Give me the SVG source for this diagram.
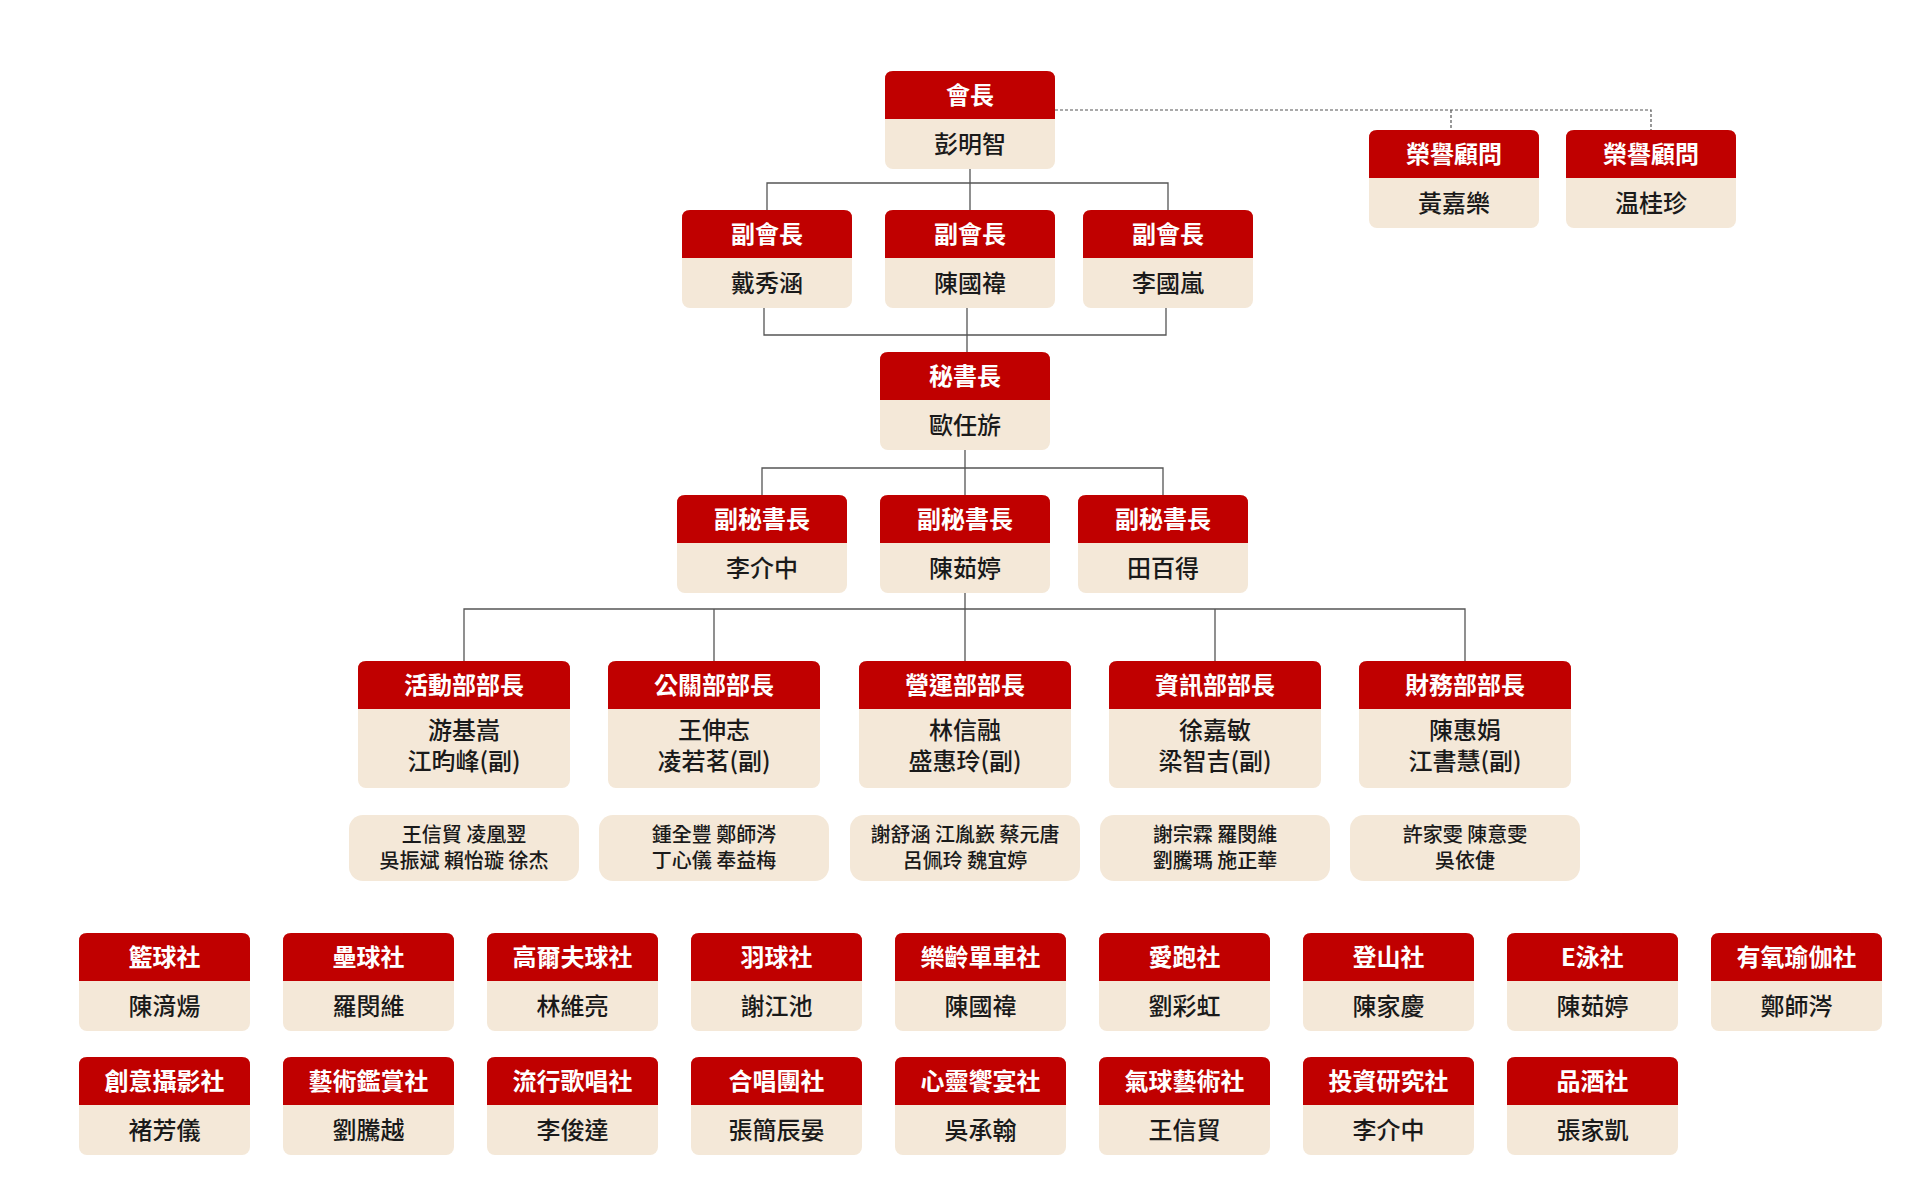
<svg xmlns="http://www.w3.org/2000/svg" width="1920" height="1204" viewBox="0 0 1920 1204">
<style>
.b{fill:#f4e8d8}.h{fill:#c00000}
text{font-family:"Noto Sans CJK TC","Noto Sans CJK SC",sans-serif;text-anchor:middle}
.t{fill:#fff;font-size:24px;font-weight:700}
.n{fill:#1a1a1a;font-size:24px;font-weight:500}
.m{fill:#1a1a1a;font-size:20px;font-weight:500}
.l{fill:none;stroke:#555;stroke-width:1.3}
.d{fill:none;stroke:#555;stroke-width:1.2;stroke-dasharray:3 2}
</style>
<rect width="1920" height="1204" fill="#fff"/>
<g id="connectors">
<path class="d" d="M1055 110 H1651 V130 M1451 110 V130"/>
<path class="l" d="M970 169 V183 M767 210 V183 H1168 V210 M970 183 V210"/>
<path class="l" d="M764 308 V335 H1166 V308 M967 308 V352"/>
<path class="l" d="M965 449 V468 M762 495 V468 H1163 V495 M965 468 V495"/>
<path class="l" d="M965 592 V609 M464 661 V609 H1465 V661 M714 609 V661 M965 609 V661 M1215 609 V661"/>
</g>
<g id="president"><rect class="b" x="885" y="71" width="170" height="98" rx="8"/><path class="h" d="M885 119 V79 Q885 71 893 71 H1047 Q1055 71 1055 79 V119 Z"/><text class="t" x="970" y="104">會長</text><text class="n" x="970" y="153">彭明智</text></g>
<g id="adv1"><rect class="b" x="1369" y="130" width="170" height="98" rx="8"/><path class="h" d="M1369 178 V138 Q1369 130 1377 130 H1531 Q1539 130 1539 138 V178 Z"/><text class="t" x="1454" y="163">榮譽顧問</text><text class="n" x="1454" y="212">黃嘉樂</text></g>
<g id="adv2"><rect class="b" x="1566" y="130" width="170" height="98" rx="8"/><path class="h" d="M1566 178 V138 Q1566 130 1574 130 H1728 Q1736 130 1736 138 V178 Z"/><text class="t" x="1651" y="163">榮譽顧問</text><text class="n" x="1651" y="212">温桂珍</text></g>
<g id="vp1"><rect class="b" x="682" y="210" width="170" height="98" rx="8"/><path class="h" d="M682 258 V218 Q682 210 690 210 H844 Q852 210 852 218 V258 Z"/><text class="t" x="767" y="243">副會長</text><text class="n" x="767" y="292">戴秀涵</text></g>
<g id="vp2"><rect class="b" x="885" y="210" width="170" height="98" rx="8"/><path class="h" d="M885 258 V218 Q885 210 893 210 H1047 Q1055 210 1055 218 V258 Z"/><text class="t" x="970" y="243">副會長</text><text class="n" x="970" y="292">陳國禕</text></g>
<g id="vp3"><rect class="b" x="1083" y="210" width="170" height="98" rx="8"/><path class="h" d="M1083 258 V218 Q1083 210 1091 210 H1245 Q1253 210 1253 218 V258 Z"/><text class="t" x="1168" y="243">副會長</text><text class="n" x="1168" y="292">李國嵐</text></g>
<g id="sg"><rect class="b" x="880" y="352" width="170" height="98" rx="8"/><path class="h" d="M880 400 V360 Q880 352 888 352 H1042 Q1050 352 1050 360 V400 Z"/><text class="t" x="965" y="385">秘書長</text><text class="n" x="965" y="434">歐任旂</text></g>
<g id="dsg1"><rect class="b" x="677" y="495" width="170" height="98" rx="8"/><path class="h" d="M677 543 V503 Q677 495 685 495 H839 Q847 495 847 503 V543 Z"/><text class="t" x="762" y="528">副秘書長</text><text class="n" x="762" y="577">李介中</text></g>
<g id="dsg2"><rect class="b" x="880" y="495" width="170" height="98" rx="8"/><path class="h" d="M880 543 V503 Q880 495 888 495 H1042 Q1050 495 1050 503 V543 Z"/><text class="t" x="965" y="528">副秘書長</text><text class="n" x="965" y="577">陳茹婷</text></g>
<g id="dsg3"><rect class="b" x="1078" y="495" width="170" height="98" rx="8"/><path class="h" d="M1078 543 V503 Q1078 495 1086 495 H1240 Q1248 495 1248 503 V543 Z"/><text class="t" x="1163" y="528">副秘書長</text><text class="n" x="1163" y="577">田百得</text></g>
<g id="dept1"><rect class="b" x="358" y="661" width="212" height="127" rx="8"/><path class="h" d="M358 709 V669 Q358 661 366 661 H562 Q570 661 570 669 V709 Z"/><text class="t" x="464" y="694">活動部部長</text><text class="n" x="464" y="739">游基嵩</text><text class="n" x="464" y="770">江昀峰(副)</text></g>
<g id="dept2"><rect class="b" x="608" y="661" width="212" height="127" rx="8"/><path class="h" d="M608 709 V669 Q608 661 616 661 H812 Q820 661 820 669 V709 Z"/><text class="t" x="714" y="694">公關部部長</text><text class="n" x="714" y="739">王伸志</text><text class="n" x="714" y="770">凌若茗(副)</text></g>
<g id="dept3"><rect class="b" x="859" y="661" width="212" height="127" rx="8"/><path class="h" d="M859 709 V669 Q859 661 867 661 H1063 Q1071 661 1071 669 V709 Z"/><text class="t" x="965" y="694">營運部部長</text><text class="n" x="965" y="739">林信融</text><text class="n" x="965" y="770">盛惠玲(副)</text></g>
<g id="dept4"><rect class="b" x="1109" y="661" width="212" height="127" rx="8"/><path class="h" d="M1109 709 V669 Q1109 661 1117 661 H1313 Q1321 661 1321 669 V709 Z"/><text class="t" x="1215" y="694">資訊部部長</text><text class="n" x="1215" y="739">徐嘉敏</text><text class="n" x="1215" y="770">梁智吉(副)</text></g>
<g id="dept5"><rect class="b" x="1359" y="661" width="212" height="127" rx="8"/><path class="h" d="M1359 709 V669 Q1359 661 1367 661 H1563 Q1571 661 1571 669 V709 Z"/><text class="t" x="1465" y="694">財務部部長</text><text class="n" x="1465" y="739">陳惠娟</text><text class="n" x="1465" y="770">江書慧(副)</text></g>
<g id="mem1"><rect class="b" x="349" y="815" width="230" height="66" rx="14"/><text class="m" x="464" y="842">王信貿 凌凰翌</text><text class="m" x="464" y="868">吳振斌 賴怡璇 徐杰</text></g>
<g id="mem2"><rect class="b" x="599" y="815" width="230" height="66" rx="14"/><text class="m" x="714" y="842">鍾全豐 鄭師涔</text><text class="m" x="714" y="868">丁心儀 奉益梅</text></g>
<g id="mem3"><rect class="b" x="850" y="815" width="230" height="66" rx="14"/><text class="m" x="965" y="842">謝舒涵 江胤嶔 蔡元唐</text><text class="m" x="965" y="868">呂佩玲 魏宜婷</text></g>
<g id="mem4"><rect class="b" x="1100" y="815" width="230" height="66" rx="14"/><text class="m" x="1215" y="842">謝宗霖 羅閔維</text><text class="m" x="1215" y="868">劉騰瑪 施正華</text></g>
<g id="mem5"><rect class="b" x="1350" y="815" width="230" height="66" rx="14"/><text class="m" x="1465" y="842">許家雯 陳意雯</text><text class="m" x="1465" y="868">吳依倢</text></g>
<g id="c1"><rect class="b" x="79" y="933" width="171" height="98" rx="8"/><path class="h" d="M79 981 V941 Q79 933 87 933 H242 Q250 933 250 941 V981 Z"/><text class="t" x="164.5" y="966">籃球社</text><text class="n" x="164.5" y="1015">陳湇煬</text></g>
<g id="c2"><rect class="b" x="283" y="933" width="171" height="98" rx="8"/><path class="h" d="M283 981 V941 Q283 933 291 933 H446 Q454 933 454 941 V981 Z"/><text class="t" x="368.5" y="966">壘球社</text><text class="n" x="368.5" y="1015">羅閔維</text></g>
<g id="c3"><rect class="b" x="487" y="933" width="171" height="98" rx="8"/><path class="h" d="M487 981 V941 Q487 933 495 933 H650 Q658 933 658 941 V981 Z"/><text class="t" x="572.5" y="966">高爾夫球社</text><text class="n" x="572.5" y="1015">林維亮</text></g>
<g id="c4"><rect class="b" x="691" y="933" width="171" height="98" rx="8"/><path class="h" d="M691 981 V941 Q691 933 699 933 H854 Q862 933 862 941 V981 Z"/><text class="t" x="776.5" y="966">羽球社</text><text class="n" x="776.5" y="1015">謝江池</text></g>
<g id="c5"><rect class="b" x="895" y="933" width="171" height="98" rx="8"/><path class="h" d="M895 981 V941 Q895 933 903 933 H1058 Q1066 933 1066 941 V981 Z"/><text class="t" x="980.5" y="966">樂齡單車社</text><text class="n" x="980.5" y="1015">陳國禕</text></g>
<g id="c6"><rect class="b" x="1099" y="933" width="171" height="98" rx="8"/><path class="h" d="M1099 981 V941 Q1099 933 1107 933 H1262 Q1270 933 1270 941 V981 Z"/><text class="t" x="1184.5" y="966">愛跑社</text><text class="n" x="1184.5" y="1015">劉彩虹</text></g>
<g id="c7"><rect class="b" x="1303" y="933" width="171" height="98" rx="8"/><path class="h" d="M1303 981 V941 Q1303 933 1311 933 H1466 Q1474 933 1474 941 V981 Z"/><text class="t" x="1388.5" y="966">登山社</text><text class="n" x="1388.5" y="1015">陳家慶</text></g>
<g id="c8"><rect class="b" x="1507" y="933" width="171" height="98" rx="8"/><path class="h" d="M1507 981 V941 Q1507 933 1515 933 H1670 Q1678 933 1678 941 V981 Z"/><text class="t" x="1592.5" y="966">E泳社</text><text class="n" x="1592.5" y="1015">陳茹婷</text></g>
<g id="c9"><rect class="b" x="1711" y="933" width="171" height="98" rx="8"/><path class="h" d="M1711 981 V941 Q1711 933 1719 933 H1874 Q1882 933 1882 941 V981 Z"/><text class="t" x="1796.5" y="966">有氧瑜伽社</text><text class="n" x="1796.5" y="1015">鄭師涔</text></g>
<g id="c10"><rect class="b" x="79" y="1057" width="171" height="98" rx="8"/><path class="h" d="M79 1105 V1065 Q79 1057 87 1057 H242 Q250 1057 250 1065 V1105 Z"/><text class="t" x="164.5" y="1090">創意攝影社</text><text class="n" x="164.5" y="1139">褚芳儀</text></g>
<g id="c11"><rect class="b" x="283" y="1057" width="171" height="98" rx="8"/><path class="h" d="M283 1105 V1065 Q283 1057 291 1057 H446 Q454 1057 454 1065 V1105 Z"/><text class="t" x="368.5" y="1090">藝術鑑賞社</text><text class="n" x="368.5" y="1139">劉騰越</text></g>
<g id="c12"><rect class="b" x="487" y="1057" width="171" height="98" rx="8"/><path class="h" d="M487 1105 V1065 Q487 1057 495 1057 H650 Q658 1057 658 1065 V1105 Z"/><text class="t" x="572.5" y="1090">流行歌唱社</text><text class="n" x="572.5" y="1139">李俊達</text></g>
<g id="c13"><rect class="b" x="691" y="1057" width="171" height="98" rx="8"/><path class="h" d="M691 1105 V1065 Q691 1057 699 1057 H854 Q862 1057 862 1065 V1105 Z"/><text class="t" x="776.5" y="1090">合唱團社</text><text class="n" x="776.5" y="1139">張簡辰晏</text></g>
<g id="c14"><rect class="b" x="895" y="1057" width="171" height="98" rx="8"/><path class="h" d="M895 1105 V1065 Q895 1057 903 1057 H1058 Q1066 1057 1066 1065 V1105 Z"/><text class="t" x="980.5" y="1090">心靈饗宴社</text><text class="n" x="980.5" y="1139">吳承翰</text></g>
<g id="c15"><rect class="b" x="1099" y="1057" width="171" height="98" rx="8"/><path class="h" d="M1099 1105 V1065 Q1099 1057 1107 1057 H1262 Q1270 1057 1270 1065 V1105 Z"/><text class="t" x="1184.5" y="1090">氣球藝術社</text><text class="n" x="1184.5" y="1139">王信貿</text></g>
<g id="c16"><rect class="b" x="1303" y="1057" width="171" height="98" rx="8"/><path class="h" d="M1303 1105 V1065 Q1303 1057 1311 1057 H1466 Q1474 1057 1474 1065 V1105 Z"/><text class="t" x="1388.5" y="1090">投資研究社</text><text class="n" x="1388.5" y="1139">李介中</text></g>
<g id="c17"><rect class="b" x="1507" y="1057" width="171" height="98" rx="8"/><path class="h" d="M1507 1105 V1065 Q1507 1057 1515 1057 H1670 Q1678 1057 1678 1065 V1105 Z"/><text class="t" x="1592.5" y="1090">品酒社</text><text class="n" x="1592.5" y="1139">張家凱</text></g>
</svg>
